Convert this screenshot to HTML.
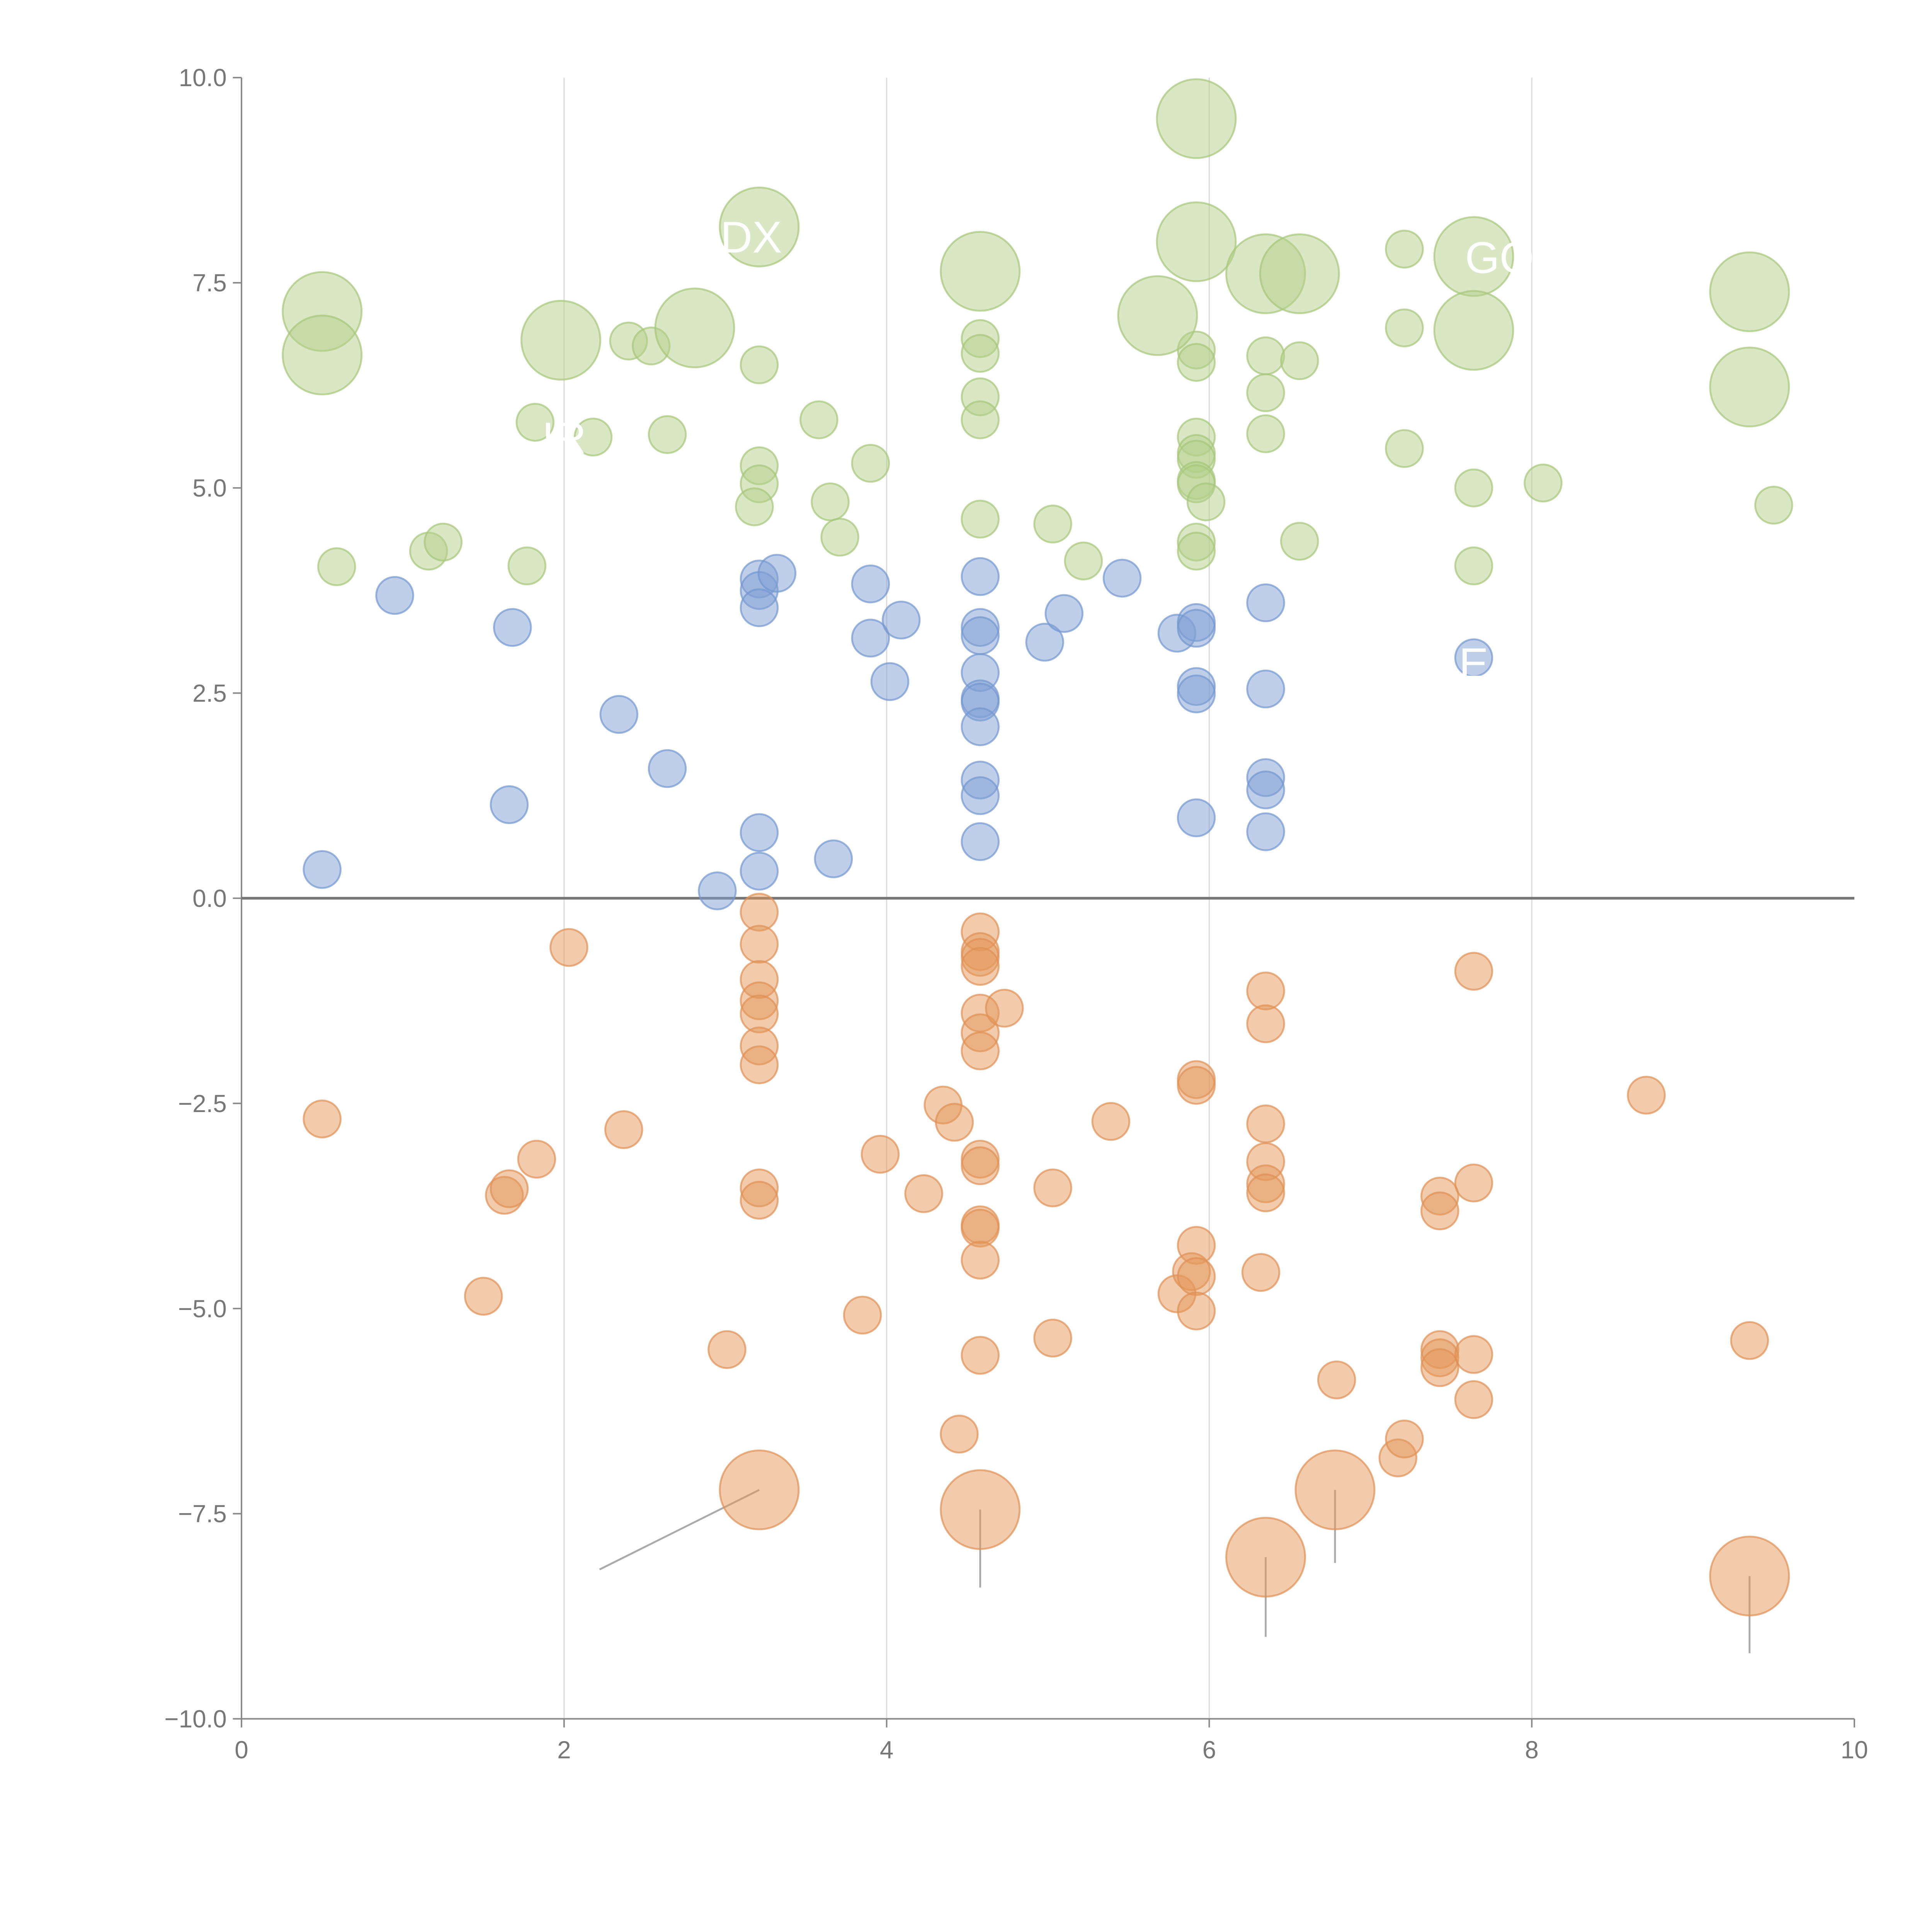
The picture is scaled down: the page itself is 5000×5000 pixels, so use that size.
<!DOCTYPE html>
<html><head><meta charset="utf-8"><style>
html,body{margin:0;padding:0;background:#fff}
svg{display:block}
text{font-family:"Liberation Sans",sans-serif}
</style></head><body>
<svg id="chart" width="5000" height="5000" viewBox="0 0 1568 1568" xmlns="http://www.w3.org/2000/svg">
<g id="grid"></g>
<g id="axes"></g>
<g id="marks"></g>
<g id="labels"></g>
</svg>
<script>
const xTicks=[0,2,4,6,8,10];
const yTicks=[10,7.5,5,2.5,0,-2.5,-5,-7.5,-10];
const yTickLabels=["10.0","7.5","5.0","2.5","0.0","\u22122.5","\u22125.0","\u22127.5","\u221210.0"];
const greenSmallX=[0.59,1.16,1.25,1.77,1.82,2.18,2.40,2.54,2.64,3.21,3.21,3.21,3.18,3.58,3.65,3.71,3.90,4.58,4.58,4.58,4.58,4.58,5.03,5.22,5.92,5.92,5.92,5.92,5.92,5.92,5.92,5.98,5.92,5.92,6.35,6.35,6.35,6.56,6.56,7.21,7.21,7.21,7.64,7.64,8.07,9.50];
const greenSmallY=[4.04,4.23,4.34,4.05,5.80,5.62,6.79,6.73,5.65,6.50,5.27,5.05,4.77,5.83,4.83,4.40,5.30,6.82,6.64,6.11,5.83,4.62,4.56,4.11,6.68,6.53,5.62,5.42,5.35,5.09,5.05,4.83,4.34,4.23,6.61,6.16,5.66,6.55,4.35,7.91,6.95,5.48,5.00,4.05,5.06,4.79];
const greenBigX=[0.50,0.50,1.98,2.81,3.21,4.58,5.68,5.92,5.92,6.35,6.56,7.64,7.64,9.35,9.35];
const greenBigY=[7.15,6.62,6.80,6.95,8.18,7.64,7.10,9.50,8.00,7.61,7.61,7.82,6.92,7.39,6.23];
const blueX=[0.50,0.95,1.68,1.66,2.34,2.64,2.95,3.21,3.21,3.21,3.32,3.21,3.21,3.67,3.90,3.90,4.09,4.02,4.58,4.58,4.58,4.58,4.58,4.58,4.58,4.58,4.58,4.58,4.98,5.10,5.46,5.80,5.92,5.92,5.92,5.92,5.92,6.35,6.35,6.35,6.35,6.35,7.64];
const blueY=[0.35,3.69,3.30,1.14,2.24,1.58,0.09,3.89,3.75,3.54,3.96,0.80,0.33,0.48,3.83,3.17,3.39,2.64,3.92,3.30,3.20,2.75,2.43,2.39,2.09,1.44,1.25,0.69,3.12,3.47,3.90,3.23,3.36,3.29,2.58,2.49,0.98,3.60,2.55,1.47,1.32,0.81,2.93];
const orangeSmallX=[0.50,1.50,1.63,1.66,1.83,2.03,2.37,3.01,3.21,3.21,3.21,3.21,3.21,3.21,3.21,3.21,3.21,3.85,3.96,4.23,4.35,4.42,4.45,4.58,4.58,4.58,4.58,4.58,4.58,4.58,4.73,4.58,4.58,4.58,4.58,4.58,4.58,5.03,5.03,5.39,5.80,5.92,5.92,5.92,5.89,5.92,5.92,6.32,6.35,6.35,6.35,6.35,6.35,6.35,6.79,7.17,7.21,7.43,7.43,7.43,7.43,7.43,7.64,7.64,7.64,7.64,8.71,9.35];
const orangeSmallY=[-2.69,-4.85,-3.62,-3.54,-3.18,-0.60,-2.82,-5.50,-0.17,-0.56,-0.99,-1.25,-1.41,-1.80,-2.03,-3.53,-3.68,-5.08,-3.12,-3.60,-2.52,-2.73,-6.53,-0.41,-0.65,-0.72,-0.83,-1.40,-1.64,-1.86,-1.34,-3.18,-3.26,-3.98,-4.02,-4.41,-5.57,-3.53,-5.36,-2.72,-4.82,-2.21,-2.28,-4.23,-4.55,-4.61,-5.03,-4.56,-1.13,-1.53,-2.75,-3.21,-3.48,-3.59,-5.87,-6.82,-6.59,-3.63,-3.81,-5.50,-5.60,-5.72,-0.89,-3.47,-5.56,-6.11,-2.40,-5.39];
const orangeBigX=[3.21,4.58,6.35,6.78,9.35];
const orangeBigY=[-7.21,-7.45,-8.03,-7.21,-8.26];
const orangeLeaderEndX=[2.22,4.58,6.35,6.78,9.35];
const orangeLeaderEndY=[-8.18,-8.40,-9.00,-8.10,-9.20];

const NS="http://www.w3.org/2000/svg";
const X0=196,X1=1505,Y0=1395,Y1=63;
function sx(v){return X0+(v-0)/(10-0)*(X1-X0);}
function sy(v){return Y0-(v+10)/20*(Y0-Y1);}
function mk(tag,attrs,parent){const e=document.createElementNS(NS,tag);for(const k in attrs)e.setAttribute(k,attrs[k]);parent.appendChild(e);return e;}
const grid=document.getElementById('grid'),axes=document.getElementById('axes'),marks=document.getElementById('marks'),labels=document.getElementById('labels');

xTicks.forEach(t=>{
  if(t>0&&t<10){const l=mk('line',{x1:sx(t),x2:sx(t),y1:Y1,y2:Y0,stroke:'#dcdcdc','stroke-width':1},grid);
  
  }
  const tk=mk('line',{x1:sx(t),x2:sx(t),y1:Y0,y2:Y0+7,stroke:'#888','stroke-width':1.2},axes);
  
  
  const tx=mk('text',{x:sx(t),y:Y0+32,'text-anchor':'middle','font-size':20,fill:'#777'},axes);
  tx.textContent=String(t);
  
  
});
yTicks.forEach((t,i)=>{
  const tk=mk('line',{x1:X0-7,x2:X0,y1:sy(t),y2:sy(t),stroke:'#888','stroke-width':1.2},axes);
  
  
  const tx=mk('text',{x:X0-12,y:sy(t)+7,'text-anchor':'end','font-size':20,fill:'#777'},axes);
  tx.textContent=yTickLabels[i];
  
  
});
const ya=mk('line',{x1:X0,x2:X0,y1:Y1,y2:Y0,stroke:'#888','stroke-width':1.2},axes);


const xa=mk('line',{x1:X0,x2:X1,y1:Y0,y2:Y0,stroke:'#888','stroke-width':1.2},axes);


const zl=mk('line',{x1:X0,x2:X1,y1:sy(0),y2:sy(0),stroke:'#777','stroke-width':2.2},axes);



function drawSeries(xs,ys,r,fill,stroke,name){
  xs.forEach((x,i)=>{
    const c=mk('circle',{cx:sx(x),cy:sy(ys[i]),r:r,fill:fill,'fill-opacity':0.5,stroke:stroke,'stroke-opacity':0.7,'stroke-width':1.5},marks);
    
    
  });
}
drawSeries(blueX,blueY,15,'#7f9fd3','#7397cf','blue-bubble');
drawSeries(orangeSmallX,orangeSmallY,15,'#e3975a','#df9055','orange-bubble');
drawSeries(greenSmallX,greenSmallY,15,'#b3d08a','#a6c67a','green-bubble');
orangeBigX.forEach((x,i)=>{
  const l=mk('line',{x1:sx(x),y1:sy(orangeBigY[i]),x2:sx(orangeLeaderEndX[i]),y2:sy(orangeLeaderEndY[i]),stroke:'#aaa','stroke-width':1.5},marks);
  
  
});
drawSeries(orangeBigX,orangeBigY,32,'#e3975a','#df9055','orange-big-bubble');
drawSeries(greenBigX,greenBigY,32,'#b3d08a','#a6c67a','green-big-bubble');

const labelText=["DX","GO","IR","E"];
const labelX=[3.16,7.80,2.00,7.64];
const labelY=[8.05,7.80,5.60,2.85];
labelText.forEach((t,i)=>{
  const tx=mk('text',{x:sx(labelX[i]),y:sy(labelY[i])+12,'text-anchor':'middle','font-size':36,fill:'#fff'},labels);
  tx.textContent=t;
  
  
});
</script>
</body></html>
